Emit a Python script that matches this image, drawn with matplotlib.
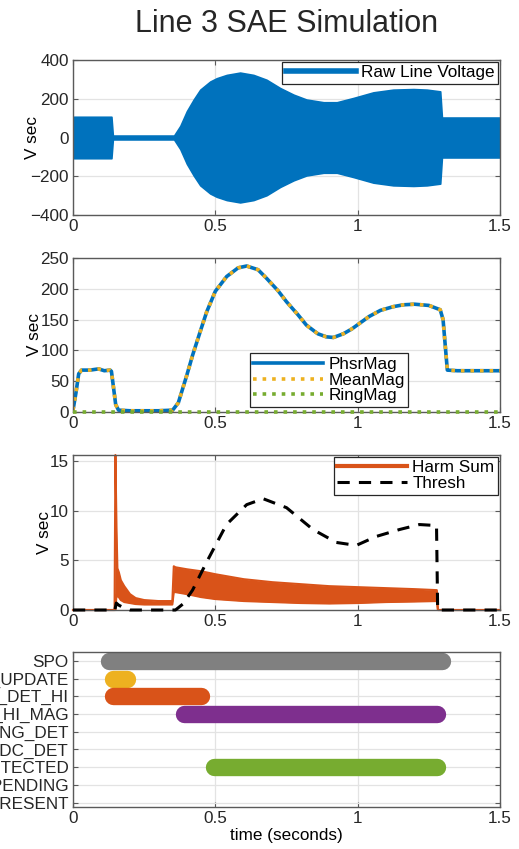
import matplotlib
matplotlib.use("Agg")
import matplotlib.pyplot as plt
from matplotlib.lines import Line2D
import numpy as np

plt.rcParams['font.family'] = ['Liberation Sans', 'DejaVu Sans']

# ---------------- data ----------------
# Panel 1: raw line voltage envelope (peak amplitude, symmetric)
raw_t = [0.0, 0.003, 0.135, 0.14, 0.355, 0.377, 0.40, 0.424, 0.447, 0.482, 0.505, 0.54,
         0.587, 0.634, 0.68, 0.728, 0.775, 0.82, 0.88, 0.927, 0.985, 1.055, 1.125,
         1.196, 1.243, 1.29, 1.296, 1.5]
raw_amp = [10, 107, 107, 10, 10, 60, 136, 196, 247, 289, 306, 323,
           335, 323, 298, 255, 221, 196, 182, 182, 204, 233, 247,
           250, 247, 238, 103, 103]

# Panel 2: phasor magnitude / mean magnitude / ring magnitude
ph_t = [0.0, 0.01, 0.02, 0.03, 0.06, 0.09, 0.11, 0.13, 0.135, 0.15, 0.16, 0.2, 0.25, 0.3,
        0.35, 0.37, 0.40, 0.42, 0.45, 0.47, 0.5, 0.54, 0.58, 0.61, 0.65, 0.68, 0.72, 0.75,
        0.79, 0.82, 0.86, 0.89, 0.915, 0.95, 0.98, 1.01, 1.04, 1.08, 1.125, 1.16, 1.2,
        1.25, 1.29, 1.30, 1.31, 1.315, 1.35, 1.4, 1.45, 1.5]
phsr_mag = [3, 30, 62, 68, 68, 70, 67, 68, 66, 12, 3, 2, 2, 2,
            3, 15, 60, 92, 135, 163, 196, 220, 234, 237, 231, 217, 197, 179,
            158, 141, 127, 122, 121, 127, 135, 145, 155, 165, 171, 174, 175,
            173, 166, 150, 95, 68, 67, 67, 67, 67]
mean_mag = phsr_mag
ring_t = [0.0, 1.5]
ring_mag = [0, 0]

# Panel 3: harmonic sum band (upper / lower) and threshold
harm_t = [0.0, 0.146, 0.149, 0.153, 0.156, 0.161, 0.168, 0.18, 0.20, 0.22, 0.25, 0.30,
          0.349, 0.354, 0.36, 0.40, 0.45, 0.50, 0.60, 0.70, 0.80, 0.90, 1.0, 1.1,
          1.2, 1.278, 1.282, 1.5]
harm_hi = [0, 0, 15.6, 8.0, 4.2, 3.8, 3.0, 2.4, 1.6, 1.2, 1.0, 0.9,
           0.9, 4.4, 4.3, 4.1, 3.9, 3.6, 3.1, 2.8, 2.6, 2.4, 2.3, 2.2,
           2.1, 2.0, 0, 0]
harm_lo = [0, 0, 0, 1.6, 1.4, 1.3, 1.0, 0.8, 0.7, 0.6, 0.55, 0.55,
           0.55, 1.8, 1.8, 1.6, 1.3, 1.1, 0.9, 0.8, 0.7, 0.65, 0.7, 0.8,
           0.85, 0.9, 0, 0]
thr_t = [0.0, 0.147, 0.152, 0.16, 0.18, 0.20, 0.36, 0.386, 0.42, 0.469, 0.539, 0.61,
         0.668, 0.75, 0.843, 0.925, 0.995, 1.065, 1.147, 1.217, 1.277, 1.281, 1.5]
thresh = [0, 0, 0.7, 0.5, 0.2, 0, 0, 0.6, 2.0, 4.8, 8.6, 10.6,
          11.2, 10.3, 8.1, 6.8, 6.5, 7.4, 8.1, 8.6, 8.5, 0, 0]

# Panel 4: state flags
flag_names = ['SPO', 'PHSR_UPDATE', 'PHI_DET_HI', 'SET_HI_MAG', 'RING_DET',
              'NO_DC_DET', 'SAE_DETECTED', 'SAE_PENDING', 'SAE_PRESENT']
flag_start = [0.125, 0.14, 0.14, 0.39, None, None, 0.495, None, None]
flag_end = [1.295, 0.19, 0.45, 1.28, None, None, 1.28, None, None]
flag_colors = ['#808080', '#EDB120', '#D95319', '#7E2F8E', None, None, '#77AC30', None, None]

# ---------------- figure ----------------
W, H = 519, 849
fig = plt.figure(figsize=(W / 100, H / 100), dpi=100)

def ax_at(top, bottom, left=73, right=500):
    return fig.add_axes([left / W, 1 - bottom / H, (right - left) / W, (bottom - top) / H])

BLUE, ORANGE, YELLOW, GREEN = '#0072BD', '#D95319', '#EDB120', '#77AC30'
GRID = '#e3e3e3'
EDGE = '#5a5a5a'
FS = 12.3

def style(ax):
    ax.set_xlim(0, 1.5)
    ax.set_xticks([0, 0.5, 1, 1.5])
    ax.set_xticklabels(['0', '0.5', '1', '1.5'])
    ax.grid(True, color=GRID, lw=0.9)
    ax.set_axisbelow(True)
    ax.tick_params(direction='in', length=3.5, width=0.8, top=True, right=True,
                   labelsize=FS, colors=EDGE, labelcolor='#262626', pad=3)
    for s in ax.spines.values():
        s.set_color(EDGE)
        s.set_linewidth(1.0)

def leg(ax, handles, labels, **kw):
    lg = ax.legend(handles, labels, fontsize=FS, fancybox=False, framealpha=1,
                   edgecolor='#262626', handlelength=4.1, handletextpad=0.3,
                   borderpad=0.2, labelspacing=0.05, borderaxespad=0.12, **kw)
    lg.get_frame().set_linewidth(0.9)
    return lg

# Panel 1
ax1 = ax_at(60, 215)
amp = np.array(raw_amp)
ax1.fill_between(raw_t, -amp, amp, color=BLUE, lw=1.2, edgecolor=BLUE)
ax1.set_ylim(-400, 400)
ax1.set_yticks([-400, -200, 0, 200, 400])
ax1.set_ylabel('V sec', fontsize=FS)
ax1.yaxis.set_label_coords(-0.077, 0.5)
style(ax1)
leg(ax1, [Line2D([], [], color=BLUE, lw=4)], ['Raw Line Voltage'], loc='upper right')

# Panel 2
ax2 = ax_at(258, 412)
ax2.plot(ph_t, phsr_mag, color=BLUE, lw=2.6)
ax2.plot(ph_t, mean_mag, color=YELLOW, lw=2.6, ls=':')
ax2.plot(ring_t, ring_mag, color=GREEN, lw=2.6, ls=':', clip_on=False, zorder=5)
ax2.set_ylim(0, 250)
ax2.set_yticks([0, 50, 100, 150, 200, 250])
ax2.set_ylabel('V sec', fontsize=FS)
ax2.yaxis.set_label_coords(-0.072, 0.5)
style(ax2)
leg(ax2, [Line2D([], [], color=BLUE, lw=2.6),
          Line2D([], [], color=YELLOW, lw=2.6, ls=':'),
          Line2D([], [], color=GREEN, lw=2.6, ls=':')],
    ['PhsrMag', 'MeanMag', 'RingMag'], loc='lower right',
    bbox_to_anchor=(0.79, 0.02))

# Panel 3
ax3 = ax_at(455, 610)
ax3.fill_between(harm_t, harm_lo, harm_hi, color=ORANGE, lw=0)
ax3.plot(harm_t, harm_hi, color=ORANGE, lw=1.5, clip_on=False)
ax3.plot(harm_t, harm_lo, color=ORANGE, lw=1.5, clip_on=False)
ax3.plot(thr_t, thresh, color='black', lw=2.2, ls=(0, (4, 3)), clip_on=False, zorder=5)
ax3.set_ylim(0, 15.6)
ax3.set_yticks([0, 5, 10, 15])
ax3.set_ylabel('V sec', fontsize=FS)
ax3.yaxis.set_label_coords(-0.05, 0.5)
style(ax3)
leg(ax3, [Line2D([], [], color=ORANGE, lw=3),
          Line2D([], [], color='black', lw=2.2, ls=(0, (4, 3)))],
    ['Harm Sum', 'Thresh'], loc='upper right')

# Panel 4
ax4 = ax_at(652, 807)
ypos = list(range(1, len(flag_names) + 1))
for y, s, e, c in zip(ypos, flag_start, flag_end, flag_colors):
    if s is not None:
        ax4.plot([s, e], [y, y], color=c, lw=12.5, solid_capstyle='round')
ax4.set_ylim(9.25, 0.5)
ax4.set_yticks(ypos)
ax4.set_yticklabels(flag_names)
style(ax4)
ax4.set_xlabel('time (seconds)', fontsize=FS, labelpad=1)

fig.text(286.5 / W, 1 - 24 / H, 'Line 3 SAE Simulation', ha='center', va='center',
         fontsize=22, color='#262626')

fig.savefig('out.png', dpi=100)
